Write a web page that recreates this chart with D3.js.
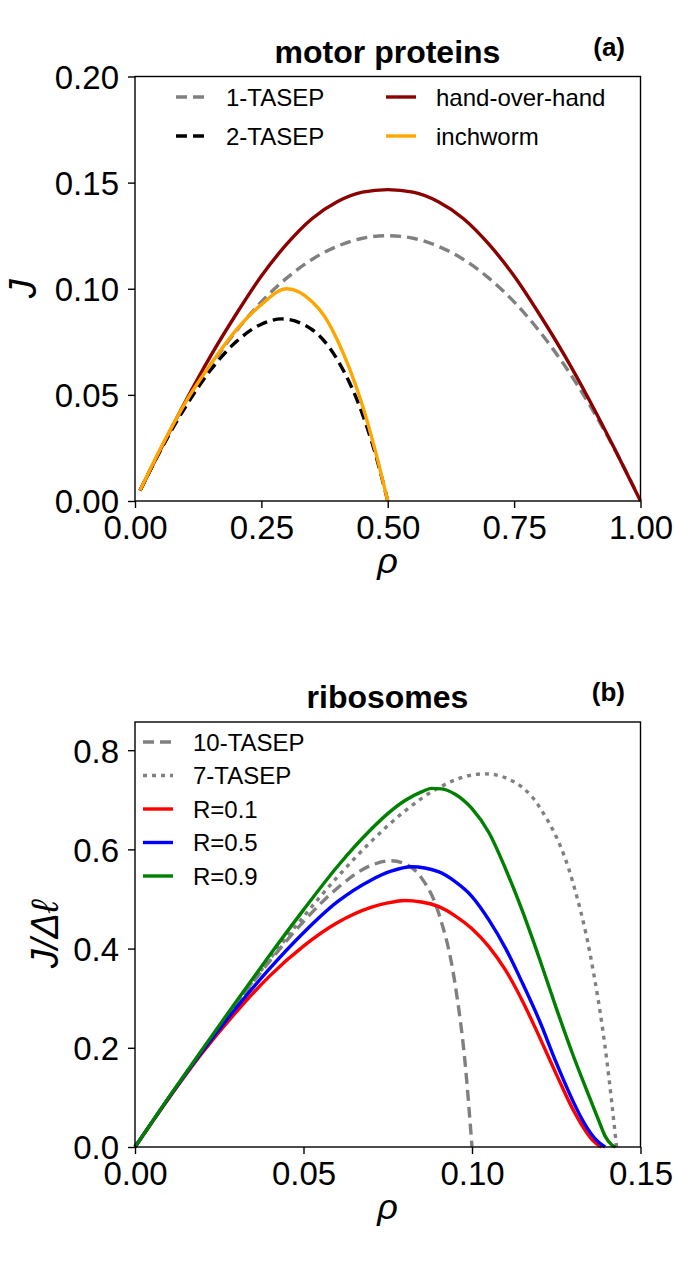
<!DOCTYPE html>
<html>
<head>
<meta charset="utf-8">
<script src="https://cdn.jsdelivr.net/npm/d3@7"></script>
<style>
  body { margin: 0; background: #fff; }
  svg text { font-family: "Liberation Sans", Arial, sans-serif; }
</style>
</head>
<body>
<div class="graphContainer"></div>
<script>
// panel (a) : motor proteins
const rhoTasep1 = [0.01, 0.05, 0.10, 0.15, 0.20, 0.25, 0.30, 0.35, 0.40, 0.45, 0.50,
  0.55, 0.60, 0.65, 0.70, 0.75, 0.80, 0.85, 0.90, 0.95, 0.99];
const jTasep1 = [0.005, 0.0238, 0.045, 0.0638, 0.080, 0.0938, 0.105, 0.1138, 0.120, 0.1238, 0.125,
  0.1238, 0.120, 0.1138, 0.105, 0.0938, 0.080, 0.0638, 0.045, 0.0238, 0.005];

const rhoTasep2 = [0.01, 0.05, 0.10, 0.15, 0.20, 0.25, 0.29, 0.35, 0.40, 0.45, 0.475, 0.50];
const jTasep2 = [0.0049, 0.0237, 0.0444, 0.0618, 0.075, 0.0833, 0.0858, 0.0808, 0.0667, 0.0409, 0.0226, 0.0];

const rhoHand = [0.01, 0.05, 0.10, 0.15, 0.20, 0.25, 0.30, 0.35, 0.40, 0.45, 0.50,
  0.55, 0.60, 0.65, 0.70, 0.75, 0.80, 0.85, 0.90, 0.95, 1.00];
const jHand = [0.005, 0.024, 0.047, 0.0685, 0.088, 0.106, 0.121, 0.133, 0.141, 0.1455, 0.1467,
  0.1455, 0.141, 0.133, 0.121, 0.106, 0.088, 0.0685, 0.047, 0.024, 0.0];

const rhoInch = [0.01, 0.05, 0.10, 0.15, 0.20, 0.25, 0.30, 0.35, 0.375, 0.40, 0.425, 0.45, 0.475, 0.50];
const jInch = [0.005, 0.0245, 0.0465, 0.0645, 0.0805, 0.0925, 0.100, 0.094, 0.087, 0.076, 0.062, 0.045, 0.024, 0.0];

const xTicksA = [0, 0.25, 0.5, 0.75, 1.0];
const yTicksA = [0, 0.05, 0.10, 0.15, 0.20];

// panel (b) : ribosomes
const rhoTasep10 = [0, 0.01, 0.02, 0.03, 0.04, 0.05, 0.06, 0.07, 0.076, 0.08, 0.085, 0.09, 0.095, 0.098, 0.10];
const vTasep10 = [0, 0.0989, 0.1951, 0.2877, 0.375, 0.4545, 0.5217, 0.5676, 0.5772, 0.5714, 0.5426, 0.4737, 0.3276, 0.1661, 0];

const rhoTasep7 = [0, 0.01, 0.02, 0.03, 0.04, 0.05, 0.06, 0.07, 0.08, 0.09, 0.10, 0.104, 0.11, 0.12, 0.13, 0.135, 0.14, 0.1429];
const vTasep7 = [0, 0.0989, 0.1955, 0.289, 0.3789, 0.4643, 0.5438, 0.6155, 0.6769, 0.7239, 0.75, 0.7523, 0.7441, 0.6857, 0.5318, 0.3908, 0.175, 0];

const rhoR1 = [0, 0.01, 0.02, 0.03, 0.04, 0.05, 0.06, 0.07, 0.075, 0.08, 0.085, 0.09, 0.095, 0.10,
  0.105, 0.11, 0.115, 0.12, 0.125, 0.13, 0.1325, 0.135, 0.137, 0.1385];
const vR1 = [0, 0.098, 0.19, 0.272, 0.345, 0.405, 0.452, 0.483, 0.492, 0.497, 0.494, 0.485, 0.466, 0.440,
  0.404, 0.356, 0.294, 0.222, 0.147, 0.075, 0.045, 0.020, 0.006, 0];

const rhoR5 = [0, 0.01, 0.02, 0.03, 0.04, 0.05, 0.06, 0.07, 0.076, 0.082, 0.09, 0.095, 0.10,
  0.105, 0.11, 0.115, 0.12, 0.125, 0.13, 0.1325, 0.135, 0.1375, 0.1395];
const vR5 = [0, 0.099, 0.193, 0.28, 0.36, 0.432, 0.494, 0.538, 0.556, 0.565, 0.555, 0.535, 0.505,
  0.458, 0.400, 0.330, 0.255, 0.170, 0.092, 0.058, 0.030, 0.010, 0];

const rhoR9 = [0, 0.01, 0.02, 0.03, 0.04, 0.05, 0.06, 0.07, 0.075, 0.08, 0.085, 0.088, 0.091, 0.095, 0.10,
  0.105, 0.11, 0.115, 0.12, 0.125, 0.13, 0.135, 0.1375, 0.1395, 0.1415, 0.1425];
const vR9 = [0, 0.10, 0.197, 0.293, 0.387, 0.478, 0.565, 0.64, 0.672, 0.698, 0.716, 0.723, 0.722, 0.711, 0.682,
  0.634, 0.560, 0.475, 0.380, 0.280, 0.185, 0.098, 0.055, 0.022, 0.004, 0];

const xTicksB = [0, 0.05, 0.10, 0.15];
const yTicksB = [0, 0.2, 0.4, 0.6, 0.8];

const W = 675, H = 1275;
const svg = d3.select(".graphContainer").append("svg")
  .attr("width", W).attr("height", H);

function zip(xs, ys) {
  return xs.map(function (x, i) { return [x, ys[i]]; });
}

function drawPanel(p) {
  const x = d3.scaleLinear().domain(p.xDomain).range([135, 640.5]);
  const y = d3.scaleLinear().domain(p.yDomain).range([p.bottom, p.top]);
  const g = svg.append("g");

  const yAxis = d3.axisLeft(y).tickValues(p.yTicks).tickSize(7).tickPadding(9)
    .tickFormat(d3.format(p.yFmt));
  const xAxis = d3.axisBottom(x).tickValues(p.xTicks).tickSize(7).tickPadding(8)
    .tickFormat(d3.format(p.xFmt));

  const ga = g.append("g").attr("transform", "translate(135,0)").call(yAxis);
  const gb = g.append("g").attr("transform", "translate(0," + p.bottom + ")").call(xAxis);
  [ga, gb].forEach(function (a) {
    a.select(".domain").remove();
    a.selectAll("line").attr("stroke", "#000").attr("stroke-width", 1.4);
    a.selectAll("text").attr("font-size", 33).attr("fill", "#000")
      .attr("font-family", "Liberation Sans, Arial, sans-serif");
  });
  ga.selectAll("text").attr("dy", "0.36em");

  const line = d3.line()
    .x(function (d) { return x(d[0]); })
    .y(function (d) { return y(d[1]); })
    .curve(d3.curveMonotoneX);

  p.series.forEach(function (s) {
    g.append("path")
      .attr("d", line(zip(s.xs, s.ys)))
      .attr("fill", "none")
      .attr("stroke", s.color)
      .attr("stroke-width", 3.4)
      .attr("stroke-dasharray", s.dash || null);
  });

  g.append("rect")
    .attr("x", 135).attr("y", p.top)
    .attr("width", 505.5).attr("height", p.bottom - p.top)
    .attr("fill", "none").attr("stroke", "#000").attr("stroke-width", 1.4);

  // legend
  p.series.forEach(function (s) {
    const lx = s.legend[0], ly = s.legend[1];
    g.append("line")
      .attr("x1", lx).attr("x2", lx + 30).attr("y1", ly).attr("y2", ly)
      .attr("stroke", s.color).attr("stroke-width", 3.4)
      .attr("stroke-dasharray", s.dash || null);
    g.append("text")
      .attr("x", lx + 50).attr("y", ly).attr("dy", "0.36em")
      .attr("font-size", 24).text(s.name);
  });

  g.append("text")
    .attr("x", 387.5).attr("y", p.top - 14)
    .attr("text-anchor", "middle").attr("font-size", 32).attr("font-weight", "bold")
    .text(p.title);
  g.append("text")
    .attr("x", 625).attr("y", p.top - 21)
    .attr("text-anchor", "end").attr("font-size", 26).attr("font-weight", "bold")
    .text(p.tag);

  g.append("text")
    .attr("x", 387.5).attr("y", p.bottom + 72)
    .attr("text-anchor", "middle")
    .attr("font-family", "Liberation Serif, DejaVu Serif, serif")
    .attr("font-style", "italic").attr("font-size", 36)
    .text("ρ");

  g.append("text")
    .attr("transform", "translate(" + p.ylabelX + "," + (p.top + p.bottom) / 2 + ") rotate(-90)")
    .attr("text-anchor", "middle")
    .attr("font-family", "Liberation Serif, DejaVu Serif, serif")
    .attr("font-style", "italic").attr("font-size", 38)
    .text(p.ylabel);
}

drawPanel({
  title: "motor proteins", tag: "(a)", ylabel: "J", ylabelX: 36,
  top: 76.5, bottom: 501,
  xDomain: [0, 1], yDomain: [0, 0.2],
  xTicks: xTicksA, yTicks: yTicksA, xFmt: ".2f", yFmt: ".2f",
  series: [
    { name: "1-TASEP", xs: rhoTasep1, ys: jTasep1, color: "#808080", dash: "11,6", legend: [176, 97] },
    { name: "2-TASEP", xs: rhoTasep2, ys: jTasep2, color: "#000000", dash: "11,6", legend: [176, 136] },
    { name: "hand-over-hand", xs: rhoHand, ys: jHand, color: "#8b0000", legend: [386, 97] },
    { name: "inchworm", xs: rhoInch, ys: jInch, color: "#ffa500", legend: [386, 136] }
  ]
});

drawPanel({
  title: "ribosomes", tag: "(b)", ylabel: "J/Δℓ", ylabelX: 58,
  top: 722, bottom: 1147,
  xDomain: [0, 0.15], yDomain: [0, 0.8568],
  xTicks: xTicksB, yTicks: yTicksB, xFmt: ".2f", yFmt: ".1f",
  series: [
    { name: "10-TASEP", xs: rhoTasep10, ys: vTasep10, color: "#808080", dash: "11,6", legend: [143, 742] },
    { name: "7-TASEP", xs: rhoTasep7, ys: vTasep7, color: "#808080", dash: "4,5", legend: [143, 775.5] },
    { name: "R=0.1", xs: rhoR1, ys: vR1, color: "#ff0000", legend: [143, 809] },
    { name: "R=0.5", xs: rhoR5, ys: vR5, color: "#0000ff", legend: [143, 842.5] },
    { name: "R=0.9", xs: rhoR9, ys: vR9, color: "#008000", legend: [143, 876] }
  ]
});
</script>
</body>
</html>
